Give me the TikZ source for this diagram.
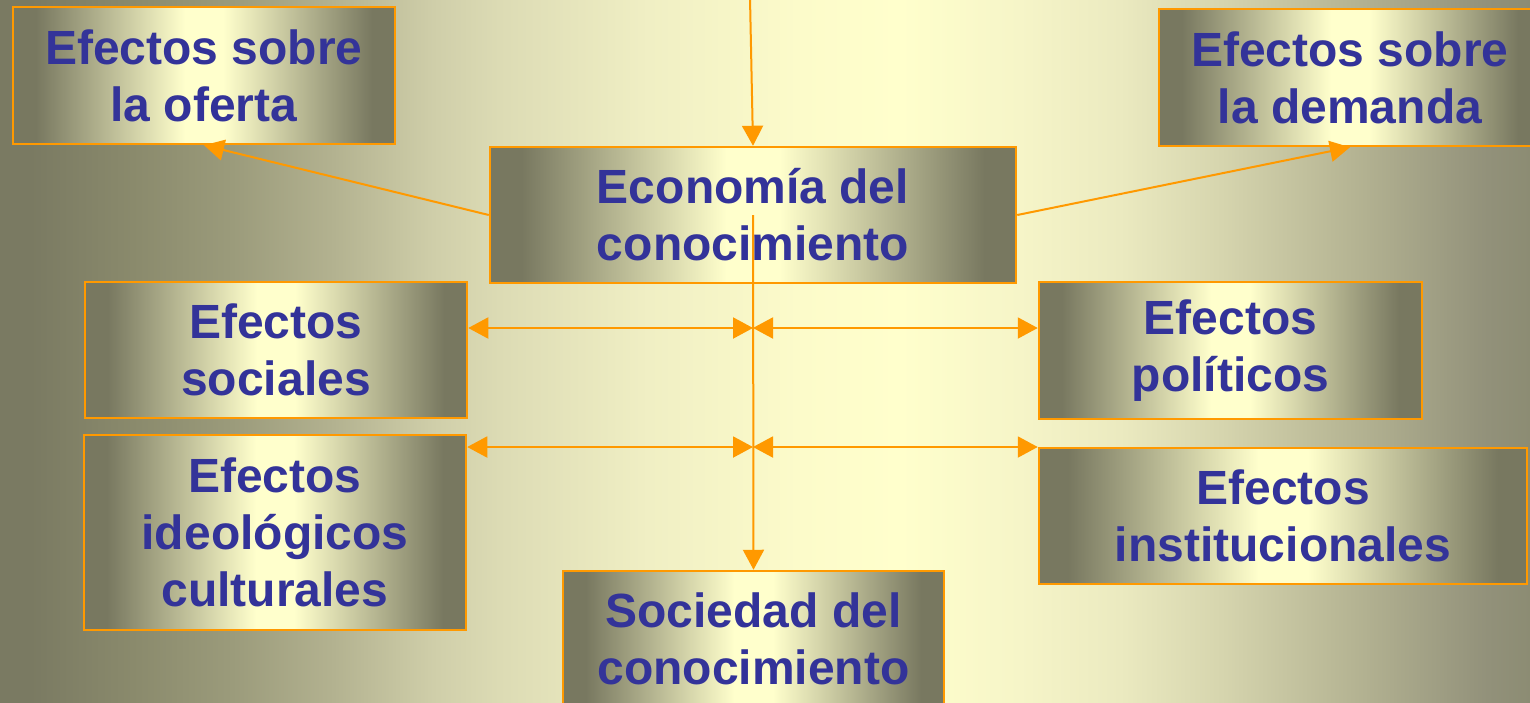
\documentclass[tikz,border=0pt]{standalone}
\usepackage{fontspec}
\setmainfont{Liberation Sans}
\usetikzlibrary{arrows.meta}
\definecolor{dk}{RGB}{120,120,96}
\definecolor{lt}{RGB}{255,255,204}
\definecolor{org}{RGB}{255,153,0}
\definecolor{txtb}{RGB}{51,51,153}
\definecolor{bgA}{RGB}{122,122,98}
\definecolor{bgB}{RGB}{138,138,108}
\definecolor{bgC}{RGB}{155,155,123}
\definecolor{bgD}{RGB}{179,178,144}
\definecolor{bgE}{RGB}{207,206,169}
\definecolor{bgF}{RGB}{220,219,180}
\definecolor{bgG}{RGB}{240,239,196}
\definecolor{bgH}{RGB}{252,251,202}
\definecolor{bgI}{RGB}{255,255,204}
\definecolor{bgJ}{RGB}{246,245,200}
\definecolor{bgK}{RGB}{235,234,192}
\definecolor{bgL}{RGB}{214,213,174}
\definecolor{bgM}{RGB}{181,180,147}
\definecolor{bgN}{RGB}{146,145,122}
\definecolor{bgO}{RGB}{140,140,115}
\pgfdeclarehorizontalshading{boxshade}{100bp}{color(0bp)=(dk); color(28bp)=(dk); color(47.5bp)=(lt); color(52.5bp)=(lt); color(72bp)=(dk); color(100bp)=(dk)}
\pgfdeclarehorizontalshading{bgshade}{100bp}{color(0bp)=(bgA); color(26bp)=(bgA); color(29.35bp)=(bgB); color(32.6bp)=(bgC); color(35.9bp)=(bgD); color(39.15bp)=(bgE); color(41.3bp)=(bgF); color(46.2bp)=(bgG); color(51.1bp)=(bgH); color(54.4bp)=(bgI); color(58.3bp)=(bgJ); color(61.6bp)=(bgK); color(64.9bp)=(bgL); color(69.2bp)=(bgM); color(73.6bp)=(bgN); color(75bp)=(bgO); color(100bp)=(bgO)}
\tikzset{
  box/.style={draw=org, line width=2.5pt, shading=boxshade, text=txtb,
    font=\bfseries\fontsize{48}{57}\selectfont, align=center, inner sep=0pt},
  conn/.style={draw=org, line width=2pt, -{Triangle[length=20pt,width=21pt]}},
  dconn/.style={draw=org, line width=2pt, {Triangle[length=20pt,width=21pt]}-{Triangle[length=20pt,width=21pt]}}
}
\begin{document}
\begin{tikzpicture}[x=1pt,y=-1pt]
\useasboundingbox (0,0) rectangle (1530,702);
\clip (0,0) rectangle (1530,702);
\shade[shading=bgshade] (0,0) rectangle (1530,702);

\node[box, minimum width=382pt, minimum height=137pt] (ofe) at (204,75.5) {Efectos sobre\\la oferta};
\node[box, minimum width=382pt, minimum height=137pt] (dem) at (1350,77.5) {Efectos sobre\\la demanda};
\node[box, minimum width=526pt, minimum height=136pt] (eco) at (753,215) {Economía del\\conocimiento};
\node[box, minimum width=382pt, minimum height=136pt] (soc) at (276,350) {Efectos\\sociales};
\node[box, minimum width=383pt, minimum height=137pt] (pol) at (1230.5,350.5) {Efectos\\políticos};
\node[box, minimum width=382pt, minimum height=195pt] (ide) at (275,532.5) {Efectos\\ideológicos\\culturales};
\node[box, minimum width=488pt, minimum height=136pt] (ins) at (1283,516) {Efectos\\institucionales};
\node[box, minimum width=381pt, minimum height=136pt] (sdc) at (753.5,639) {Sociedad del\\conocimiento};

\coordinate (top) at (750,-2);
\coordinate (h1) at (753,328);
\coordinate (h2) at (753,447);

\draw[conn] (top) -- (eco.north);
\draw[conn] (eco.center) -- (sdc.north);
\draw[conn] (eco.west) -- (ofe.south);
\draw[conn] (eco.east) -- (dem.south);
\draw[dconn] (soc.east |- h1) -- (h1);
\draw[dconn] (h1) -- (pol.west |- h1);
\draw[dconn] (ide.east |- h2) -- (h2);
\draw[dconn] (h2) -- (ins.west |- h2);
\end{tikzpicture}
\end{document}
